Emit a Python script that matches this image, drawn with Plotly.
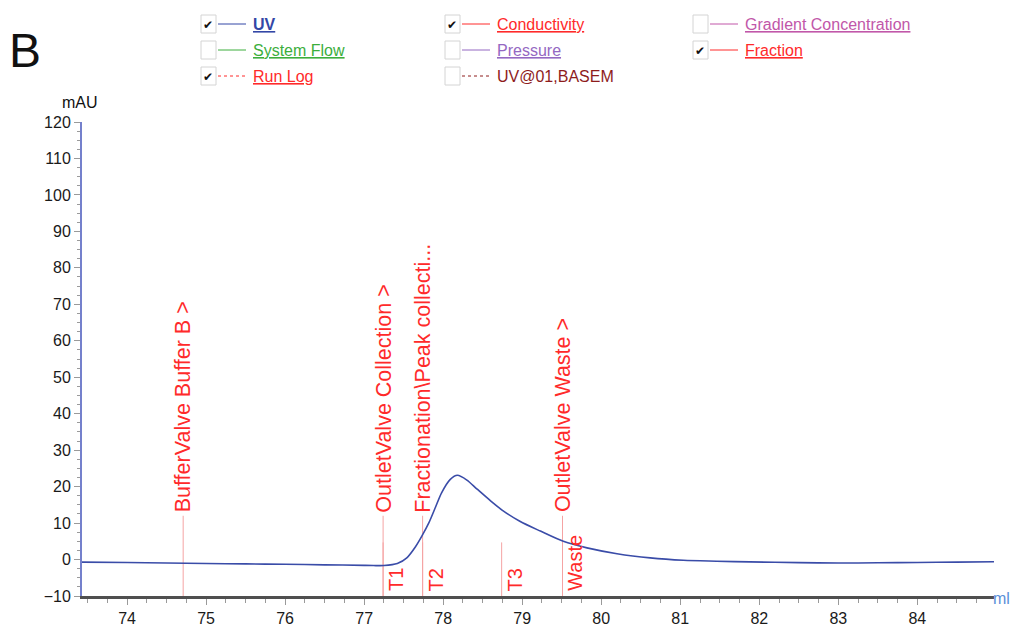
import plotly.graph_objects as go

# ---------------- data ----------------
ml = [73.43, 74.0, 74.5, 75.0, 75.5, 76.0, 76.5, 77.0, 77.12, 77.25, 77.42, 77.54,
      77.65, 77.73, 77.82, 77.90, 77.98, 78.09, 78.18, 78.30, 78.43, 78.60, 78.75,
      78.97, 79.23, 79.52, 79.82, 80.20, 80.62, 81.04, 81.46, 81.88, 82.5,
      83.0, 83.5, 84.0, 84.5, 84.97]
uv_mAU = [-0.7, -0.8, -0.95, -1.1, -1.2, -1.3, -1.45, -1.6, -1.65, -1.65, -1.1, 0.45,
          3.5, 6.4, 10.1, 14.2, 18.3, 22.0, 23.1, 21.8, 19.3, 16.1, 13.5,
          10.5, 7.8, 5.0, 3.2, 1.6, 0.45, -0.2, -0.45, -0.65, -0.85,
          -0.95, -0.9, -0.8, -0.7, -0.6]

runlog_ml = [74.71, 77.24, 77.74, 79.51]
runlog_labels = ["BufferValve Buffer B >", "OutletValve Collection >",
                 "Fractionation\\Peak collecti...", "OutletValve Waste >"]
runlog_top = 12.0

fraction_ml = [77.24, 77.74, 78.74, 79.51]
fraction_labels = ["T1", "T2", "T3", "Waste"]
fraction_top = 4.7

legend_names = ["UV", "Conductivity", "Gradient Concentration",
                "System Flow", "Pressure", "Fraction",
                "Run Log", "UV@01,BASEM"]
legend_colors = ["#3347a6", "#ff2a2a", "#c157a9",
                 "#3cae3c", "#9468c2", "#ff2a2a",
                 "#ff2a2a", "#8e1c1c"]
legend_checked = [True, True, False, False, False, True, True, False]
legend_dotted = [False, False, False, False, False, False, True, True]
legend_underline = [True, True, True, True, True, True, True, False]
legend_bold = [True, False, False, False, False, False, False, False]

x_range = [73.43, 84.97]
y_range = [-10, 120]

# ---------------- layout helpers ----------------
W, H = 1013, 627
L, R, T, B = 82, 19, 122, 31
PW, PH = W - L - R, H - T - B


def px(x):
    return (x - L) / PW


def py(y):
    return (H - B - y) / PH


SANS = "Liberation Sans, Arial"
RED = "#ff2a2a"
PINK = "#f5a3a3"

fig = go.Figure()

# run log vertical lines
for xv in runlog_ml:
    fig.add_trace(go.Scatter(x=[xv, xv], y=[y_range[0], runlog_top], mode="lines",
                             line=dict(color=PINK, width=1), hoverinfo="skip",
                             showlegend=False))
# fraction lines
for xv in fraction_ml:
    fig.add_trace(go.Scatter(x=[xv, xv], y=[y_range[0], fraction_top], mode="lines",
                             line=dict(color=PINK, width=1), hoverinfo="skip",
                             showlegend=False))

# UV curve
fig.add_trace(go.Scatter(x=ml, y=uv_mAU, mode="lines",
                         line=dict(color="#3a4ca8", width=1.6, shape="spline",
                                   smoothing=0.8),
                         showlegend=False))

annotations = []
for xv, lab in zip(runlog_ml, runlog_labels):
    annotations.append(dict(x=xv, y=runlog_top + 0.6, xref="x", yref="y",
                            text=lab, textangle=-90, showarrow=False,
                            xanchor="center", yanchor="bottom", borderpad=0,
                            font=dict(family=SANS, size=21.5, color=RED)))
for xv, lab in zip(fraction_ml, fraction_labels):
    annotations.append(dict(x=xv, y=y_range[0] + 1.0, xref="x", yref="y",
                            text=lab, textangle=-90, showarrow=False,
                            xanchor="left", yanchor="bottom", borderpad=0,
                            xshift=1,
                            font=dict(family=SANS, size=20, color=RED)))

shapes = []
col_x = [201, 445, 693]
row_y = [24, 50, 76]
for i, name in enumerate(legend_names):
    r, c = divmod(i, 3)
    x0 = col_x[c]
    yc = row_y[r]
    shapes.append(dict(type="rect", xref="paper", yref="paper",
                       x0=px(x0), x1=px(x0 + 15), y0=py(yc + 9), y1=py(yc - 9),
                       line=dict(color="#d4d4d4", width=1)))
    if legend_checked[i]:
        annotations.append(dict(x=px(x0 + 7), y=py(yc + 1), xref="paper", yref="paper",
                                text="\u2714", showarrow=False, xanchor="center",
                                yanchor="middle",
                                font=dict(family="DejaVu Sans", size=12, color="#111")))
    shapes.append(dict(type="line", xref="paper", yref="paper",
                       x0=px(x0 + 17), x1=px(x0 + 45), y0=py(yc), y1=py(yc),
                       line=dict(color=legend_colors[i], width=1,
                                 dash="dot" if legend_dotted[i] else "solid")))
    txt = f"<b>{name}</b>" if legend_bold[i] else name
    annotations.append(dict(x=px(x0 + 51), y=py(yc), xref="paper", yref="paper",
                            text=txt, showarrow=False, xanchor="left",
                            yanchor="middle", borderpad=0,
                            font=dict(family=SANS, size=16, color=legend_colors[i],
                                      lineposition="under" if legend_underline[i] else "none")))

annotations.append(dict(x=px(7), y=py(50), xref="paper", yref="paper", text="B",
                        showarrow=False, xanchor="left", yanchor="middle",
                        font=dict(family=SANS, size=48, color="#111")))
annotations.append(dict(x=px(80), y=py(102), xref="paper", yref="paper", text="mAU",
                        showarrow=False, xanchor="center", yanchor="middle",
                        font=dict(family=SANS, size=16, color="#111")))
annotations.append(dict(x=px(1012), y=py(598), xref="paper", yref="paper", text="ml",
                        showarrow=False, xanchor="right", yanchor="middle",
                        font=dict(family=SANS, size=16, color="#5b8fd8")))

fig.update_layout(
    width=W, height=H,
    margin=dict(l=L, r=R, t=T, b=B, pad=0, autoexpand=False),
    paper_bgcolor="white", plot_bgcolor="white",
    showlegend=False,
    annotations=annotations,
    shapes=shapes,
    xaxis=dict(range=x_range, dtick=1, tick0=0, showgrid=False, zeroline=False,
               automargin=False,
               showline=True, linecolor="#4f4f4f", linewidth=3,
               ticks="outside", ticklen=6, tickcolor="#9a9a9a", tickwidth=1,
               minor=dict(ticks="outside", dtick=0.25, ticklen=4, tickcolor="#9a9a9a"),
               tickfont=dict(family=SANS, size=16, color="#1a1a1a")),
    yaxis=dict(range=y_range, dtick=10, tick0=0, showgrid=False, zeroline=False,
               automargin=False,
               showline=True, linecolor="#7480cc", linewidth=2,
               ticks="outside", ticklen=6, tickcolor="#9a9a9a", tickwidth=1,
               minor=dict(ticks="outside", dtick=2.5, ticklen=3, tickcolor="#9a9a9a"),
               tickfont=dict(family=SANS, size=16, color="#1a1a1a")),
)

fig.write_html("out.html",
               config={"displayModeBar": False},
               post_script="document.body.style.margin='0';"
                           "document.body.style.overflow='hidden';")
